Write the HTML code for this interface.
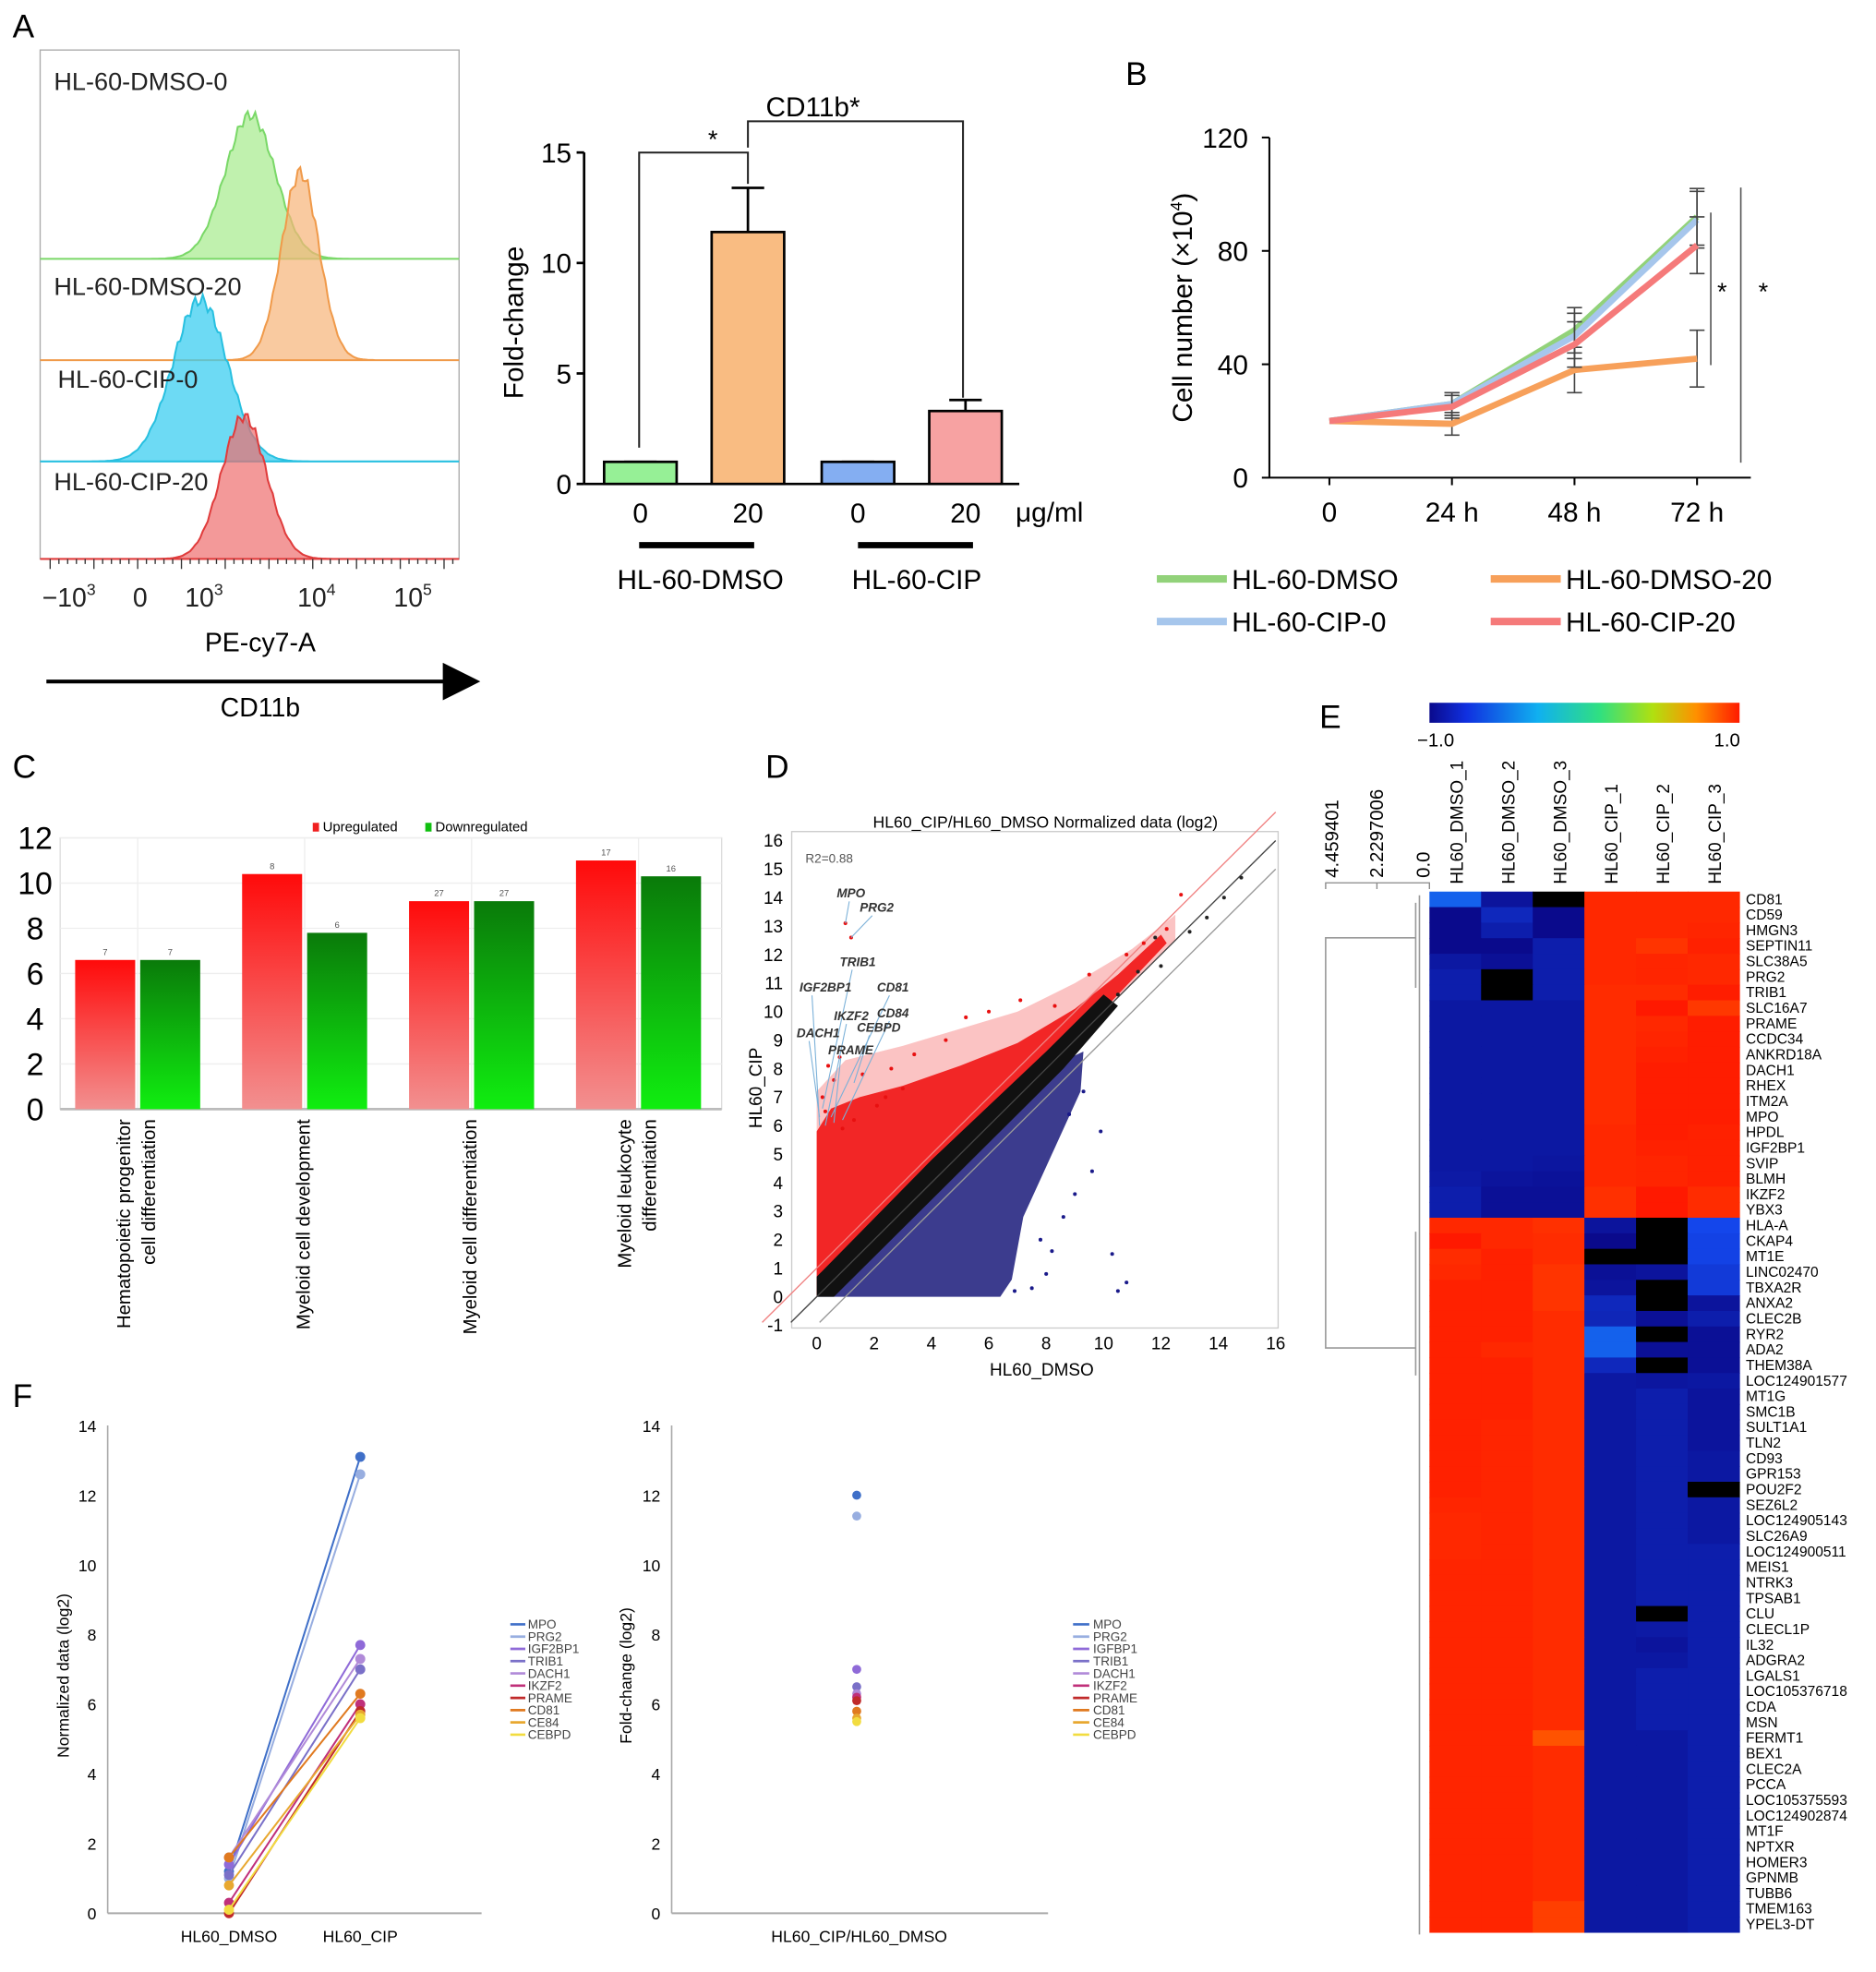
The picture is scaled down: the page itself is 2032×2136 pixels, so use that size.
<!DOCTYPE html>
<html><head><meta charset="utf-8">
<style>
html,body{margin:0;padding:0;background:#fff;}
svg{display:block;font-family:"Liberation Sans",sans-serif;}
</style></head>
<body>
<svg id="fig" width="2032" height="2136" viewBox="0 0 1500 1577" xmlns="http://www.w3.org/2000/svg">
<defs>
<linearGradient id="gRed" x1="0" y1="0" x2="0" y2="1"><stop offset="0" stop-color="#ff0a0a"/><stop offset="1" stop-color="#f29090"/></linearGradient>
<linearGradient id="gGreen" x1="0" y1="0" x2="0" y2="1"><stop offset="0" stop-color="#0a7a0a"/><stop offset="1" stop-color="#10ee10"/></linearGradient>
<linearGradient id="gCbar" x1="0" y1="0" x2="1" y2="0"><stop offset="0" stop-color="#0a0a8c"/><stop offset="0.12" stop-color="#1030e0"/><stop offset="0.35" stop-color="#10b0f0"/><stop offset="0.55" stop-color="#30e080"/><stop offset="0.72" stop-color="#b0e010"/><stop offset="0.86" stop-color="#ff9000"/><stop offset="1" stop-color="#ff1a00"/></linearGradient>
<marker id="arrowHead" markerWidth="10" markerHeight="10" refX="8" refY="5" orient="auto"><path d="M0,0 L10,5 L0,10 Z" fill="#000"/></marker>
</defs>

<text x="10" y="30" font-size="26">A</text>
<text x="900" y="68" font-size="26">B</text>
<text x="10" y="622" font-size="26">C</text>
<text x="612" y="622" font-size="26">D</text>
<text x="1055" y="582" font-size="26">E</text>
<text x="10" y="1125" font-size="26">F</text>

<g id="hist">
<rect x="32" y="40" width="335" height="407" fill="none" stroke="#aaa" stroke-width="1"/>
</g>
<text x="43" y="72" font-size="20" fill="#222">HL-60-DMSO-0</text>
<text x="43" y="236" font-size="20" fill="#222">HL-60-DMSO-20</text>
<text x="46" y="310" font-size="20" fill="#222">HL-60-CIP-0</text>
<text x="43" y="392" font-size="20" fill="#222">HL-60-CIP-20</text>
<g font-size="21" text-anchor="middle" fill="#222">
<text x="55" y="485">−10<tspan font-size="13" dy="-9">3</tspan></text>
<text x="112" y="485">0</text>
<text x="163" y="485">10<tspan font-size="13" dy="-9">3</tspan></text>
<text x="253" y="485">10<tspan font-size="13" dy="-9">4</tspan></text>
<text x="330" y="485">10<tspan font-size="13" dy="-9">5</tspan></text>
</g>
<text x="208" y="521" font-size="21" text-anchor="middle">PE-cy7-A</text>
<line x1="37" y1="545" x2="378" y2="545" stroke="#000" stroke-width="3" marker-end="url(#arrowHead)"/>
<text x="208" y="573" font-size="21" text-anchor="middle">CD11b</text>

<g id="barA"></g>
<text transform="translate(418,258) rotate(-90)" font-size="22" text-anchor="middle">Fold-change</text>
<text x="812" y="417" font-size="22">μg/ml</text>
<line x1="511" y1="436" x2="603" y2="436" stroke="#000" stroke-width="5"/>
<line x1="686" y1="436" x2="778" y2="436" stroke="#000" stroke-width="5"/>
<text x="560" y="471" font-size="22" text-anchor="middle">HL-60-DMSO</text>
<text x="733" y="471" font-size="22" text-anchor="middle">HL-60-CIP</text>
<path d="M511,358 V122 H598 V147" fill="none" stroke="#222" stroke-width="1.5"/>
<path d="M598,118 V97 H770 V318" fill="none" stroke="#222" stroke-width="1.5"/>
<text x="570" y="118" font-size="20" text-anchor="middle">*</text>
<text x="650" y="93" font-size="22" text-anchor="middle">CD11b*</text>

<g id="lineB"></g>
<text transform="translate(953,246) rotate(-90)" font-size="22" text-anchor="middle">Cell number (×10<tspan font-size="13" dy="-8">4</tspan><tspan dy="8">)</tspan></text>
<line x1="1368" y1="170" x2="1368" y2="292" stroke="#555" stroke-width="1.2"/>
<line x1="1392" y1="150" x2="1392" y2="370" stroke="#555" stroke-width="1.2"/>
<text x="1377" y="240" font-size="20" text-anchor="middle">*</text>
<text x="1410" y="240" font-size="20" text-anchor="middle">*</text>
<g id="legB" font-size="22"></g>

<g id="barC"></g>
<rect x="250" y="658" width="5" height="7" fill="#f02020"/>
<text x="258" y="665" font-size="11">Upregulated</text>
<rect x="340" y="658" width="5" height="7" fill="#10c010"/>
<text x="348" y="665" font-size="11">Downregulated</text>

<g id="scatD"></g>
<text x="698" y="662" font-size="13">HL60_CIP/HL60_DMSO  Normalized data (log2)</text>
<text x="644" y="690" font-size="10" fill="#555">R2=0.88</text>
<text x="833" y="1100" font-size="14" text-anchor="middle">HL60_DMSO</text>
<text transform="translate(609,870) rotate(-90)" font-size="14" text-anchor="middle">HL60_CIP</text>

<rect x="1143" y="562" width="248" height="16" fill="url(#gCbar)"/>
<text x="1148" y="597" font-size="15" text-anchor="middle">−1.0</text>
<text x="1381" y="597" font-size="15" text-anchor="middle">1.0</text>
<g font-size="15">
<text transform="translate(1070,702) rotate(-90)">4.459401</text>
<text transform="translate(1106,702) rotate(-90)">2.2297006</text>
<text transform="translate(1143,702) rotate(-90)">0.0</text>
<path d="M1060,711 V706 H1143 V711 M1101,706 V711" fill="none" stroke="#888" stroke-width="1"/>
</g>
<path d="M1132,750 H1060 V1078 H1132 M1135,716 V990 M1135,975 V1547 M1132,722 V790 M1132,985 V1100" fill="none" stroke="#999" stroke-width="1.2"/>
<g id="heat"></g>

<g id="lineF"></g>
<text transform="translate(55,1340) rotate(-90)" font-size="13" text-anchor="middle">Normalized data (log2)</text>
<text transform="translate(505,1340) rotate(-90)" font-size="13" text-anchor="middle">Fold-change (log2)</text>

<script>
const histSamples = ['HL-60-DMSO-0','HL-60-DMSO-20','HL-60-CIP-0','HL-60-CIP-20'];
const histPeakPos = [200, 240, 160, 195];
const histPeakHeight = [115, 150, 129, 114];
const histSpread = [20, 15, 22, 18];
const foldCats = ['0','20','0','20'];
const foldValues = [1, 11.4, 1, 3.3];
const foldErrTop = [1, 13.4, 1, 3.8];
const foldTicks = [0, 5, 10, 15];
const timeCats = ['0','24 h','48 h','72 h'];
const cellSeriesNames = ['HL-60-DMSO','HL-60-DMSO-20','HL-60-CIP-0','HL-60-CIP-20'];
const cellDMSO = [20, 26, 52, 92];
const cellDMSO20 = [20, 19, 38, 42];
const cellCIP0 = [20, 26, 50, 91];
const cellCIP20 = [20, 25, 47, 82];
const cellErr = [0, 4, 8, 10];
const cellTicks = [0, 40, 80, 120];
const goCats = [['Hematopoietic progenitor','cell differentiation'],['Myeloid cell development'],['Myeloid cell differentiation'],['Myeloid leukocyte','differentiation']];
const goUp = [6.6, 10.4, 9.2, 11.0];
const goDown = [6.6, 7.8, 9.2, 10.3];
const goUpCounts = ['7','8','27','17'];
const goDownCounts = ['7','6','27','16'];
const goTicks = [0,2,4,6,8,10,12];
const scatTicksX = [0,2,4,6,8,10,12,14,16];
const scatTicksY = [-1,0,1,2,3,4,5,6,7,8,9,10,11,12,13,14,15,16];
const upRegion = [[0,0],[0,5.8],[0.5,6.6],[1.5,7.0],[3,7.4],[5,8.1],[7,8.9],[9,10.1],[10.5,11.3],[12,12.7],[12.2,12.4],[9,9],[0,0]];
const upHalo = [[0,0],[0,7.2],[1,8.3],[3,8.8],[5,9.4],[7,10.0],[9,11.0],[11,12.2],[12.5,13.4],[12.5,12.5],[0,0]];
const diagRegion = [[0,0],[0,0.7],[4,4.8],[8,8.6],[10,10.6],[10.5,10.2],[8.6,8],[4,3.4],[0.6,0],[0,0]];
const downRegion = [[0,0],[8,8],[9.3,8.6],[9.2,7.2],[8.2,5],[7.2,2.8],[6.8,0.6],[6.4,0],[0,0]];
const upOutX = [1.0,1.2,0.2,0.4,0.3,0.6,0.8,1.6,2.6,3.4,4.5,5.2,2.1,3.0,6.0,7.1,8.3,9.5,10.8,11.4,12.2,12.7,1.3,0.9,2.4];
const upOutY = [13.1,12.6,7.0,8.1,6.5,7.6,8.4,7.8,8.0,8.5,9.0,9.8,6.7,7.3,10.0,10.4,10.2,11.3,12.0,12.4,12.9,14.1,6.2,5.9,7.0];
const downOutX = [7.5,8.2,8.6,9.0,9.6,9.9,10.3,10.8,8.0,8.8,7.8,9.3,6.9,10.5];
const downOutY = [0.3,1.6,2.8,3.6,4.4,5.8,1.5,0.5,0.8,6.4,2.0,7.2,0.2,0.2];
const blackOutX = [10.5,11.2,12.0,13.0,13.6,14.2,14.8,11.8];
const blackOutY = [10.6,11.4,11.6,12.8,13.3,14.0,14.7,12.6];
const geneLabels = ['MPO','PRG2','TRIB1','IGF2BP1','CD81','IKZF2','CD84','DACH1','CEBPD','PRAME'];
const geneLabelX = [0.7,1.5,0.8,-0.6,2.1,0.6,2.1,-0.7,1.4,0.4];
const geneLabelY = [14.0,13.5,11.6,10.7,10.7,9.7,9.8,9.1,9.3,8.5];
const genePtX = [1.0,1.2,0.2,0.1,0.5,0.3,0.9,0.1,1.3,0.6];
const genePtY = [13.1,12.6,6.6,6.0,6.3,6.0,6.2,6.3,7.5,6.1];
const heatCols = ['HL60_DMSO_1','HL60_DMSO_2','HL60_DMSO_3','HL60_CIP_1','HL60_CIP_2','HL60_CIP_3'];
const heatGenes = ['CD81','CD59','HMGN3','SEPTIN11','SLC38A5','PRG2','TRIB1','SLC16A7','PRAME','CCDC34','ANKRD18A','DACH1','RHEX','ITM2A','MPO','HPDL','IGF2BP1','SVIP','BLMH','IKZF2','YBX3',
'HLA-A','CKAP4','MT1E','LINC02470','TBXA2R','ANXA2','CLEC2B','RYR2','ADA2','THEM38A','LOC124901577','MT1G','SMC1B','SULT1A1','TLN2','CD93','GPR153','POU2F2','SEZ6L2','LOC124905143','SLC26A9','LOC124900511','MEIS1','NTRK3','TPSAB1','CLU','CLECL1P','IL32','ADGRA2','LGALS1','LOC105376718','CDA','MSN','FERMT1','BEX1','CLEC2A','PCCA','LOC105375593','LOC124902874','MT1F','NPTXR','HOMER3','GPNMB','TUBB6','TMEM163','YPEL3-DT'];
const heatValues = [
[-0.62,-0.95,null,0.96,0.96,0.96],[-1,-0.85,-1,0.96,0.96,0.96],[-1,-0.9,-1,0.96,0.96,0.97],[-1,-1,-0.9,0.96,0.93,0.98],[-0.93,-0.97,-0.9,0.96,0.97,0.96],
[-0.9,null,-0.9,0.96,0.97,0.96],[-0.9,null,-0.9,0.95,0.95,0.99],[-0.93,-0.93,-0.93,0.95,1,0.92],[-0.93,-0.93,-0.93,0.95,0.96,0.99],[-0.93,-0.93,-0.93,0.95,0.97,0.99],
[-0.93,-0.93,-0.93,0.95,0.98,0.99],[-0.93,-0.93,-0.93,0.95,0.99,0.99],[-0.93,-0.93,-0.93,0.95,0.99,0.99],[-0.93,-0.93,-0.93,0.95,0.99,0.99],[-0.93,-0.93,-0.93,0.95,0.99,0.99],
[-0.93,-0.93,-0.93,0.96,0.99,0.98],[-0.93,-0.93,-0.93,0.96,0.98,0.98],[-0.93,-0.93,-0.94,0.96,0.97,0.98],[-0.92,-0.95,-0.96,0.96,0.97,0.98],[-0.9,-0.97,-0.97,0.94,1,0.95],[-0.9,-0.97,-0.97,0.94,1,0.95],
[0.96,0.96,0.94,-0.95,null,-0.7],[1,0.96,0.95,-1,null,-0.72],[0.95,0.98,0.95,null,null,-0.72],[0.96,0.98,0.93,-0.97,-0.95,-0.76],[0.98,0.98,0.93,-0.95,null,-0.76],
[0.98,0.98,0.93,-0.85,null,-0.95],[0.98,0.98,0.95,-0.86,-0.97,-0.9],[0.98,0.98,0.95,-0.62,null,-0.97],[0.98,0.96,0.95,-0.62,-0.97,-0.97],[0.98,0.98,0.95,-0.85,null,-0.97],
[0.98,0.98,0.95,-0.93,-0.94,-0.93],[0.98,0.98,0.95,-0.93,-0.9,-0.95],[0.98,0.98,0.95,-0.93,-0.9,-0.95],[0.98,0.97,0.95,-0.93,-0.9,-0.95],[0.98,0.97,0.95,-0.93,-0.9,-0.95],
[0.98,0.97,0.95,-0.93,-0.9,-0.93],[0.98,0.97,0.95,-0.93,-0.9,-0.93],[0.98,0.97,0.95,-0.93,-0.9,null],[0.97,0.97,0.95,-0.93,-0.9,-0.93],[0.96,0.97,0.95,-0.93,-0.9,-0.93],
[0.96,0.97,0.95,-0.93,-0.9,-0.93],[0.96,0.97,0.95,-0.93,-0.9,-0.9],[0.97,0.97,0.95,-0.93,-0.9,-0.9],[0.97,0.97,0.95,-0.93,-0.9,-0.9],[0.97,0.97,0.95,-0.93,-0.9,-0.9],
[0.97,0.97,0.95,-0.93,null,-0.9],[0.97,0.97,0.95,-0.93,-0.92,-0.9],[0.97,0.97,0.95,-0.93,-0.95,-0.9],[0.97,0.97,0.95,-0.93,-0.93,-0.9],[0.97,0.97,0.95,-0.93,-0.9,-0.9],
[0.97,0.97,0.95,-0.93,-0.9,-0.9],[0.97,0.97,0.95,-0.93,-0.9,-0.9],[0.97,0.97,0.95,-0.93,-0.9,-0.9],[0.97,0.97,0.85,-0.93,-0.93,-0.9],[0.97,0.97,0.95,-0.93,-0.93,-0.9],
[0.97,0.97,0.95,-0.93,-0.93,-0.9],[0.97,0.97,0.95,-0.93,-0.93,-0.9],[0.97,0.97,0.95,-0.93,-0.93,-0.9],[0.97,0.97,0.95,-0.93,-0.93,-0.9],[0.97,0.97,0.95,-0.93,-0.93,-0.9],
[0.97,0.97,0.95,-0.93,-0.93,-0.9],[0.97,0.97,0.95,-0.93,-0.93,-0.9],[0.97,0.97,0.95,-0.93,-0.93,-0.9],[0.97,0.97,0.95,-0.93,-0.93,-0.9],[0.97,0.97,0.9,-0.93,-0.93,-0.9],[0.97,0.97,0.9,-0.93,-0.93,-0.9]];
const fGenes = ['MPO','PRG2','IGF2BP1','TRIB1','DACH1','IKZF2','PRAME','CD81','CE84','CEBPD'];
const fLegendRight = ['MPO','PRG2','IGFBP1','TRIB1','DACH1','IKZF2','PRAME','CD81','CE84','CEBPD'];
const fDMSO = [1.2, 1.0, 1.4, 1.1, 1.6, 0.3, 0.0, 1.6, 0.8, 0.1];
const fCIP = [13.1, 12.6, 7.7, 7.0, 7.3, 6.0, 5.8, 6.3, 5.7, 5.6];
const fFold = [12.0, 11.4, 7.0, 6.5, 6.3, 6.2, 6.1, 5.8, 5.6, 5.5];
const fTicks = [0,2,4,6,8,10,12,14];

const NS = 'http://www.w3.org/2000/svg';
function mk(parent, tag, attrs, txt) {
  const e = document.createElementNS(NS, tag);
  for (const k in attrs) e.setAttribute(k, attrs[k]);
  if (txt !== undefined) e.textContent = txt;
  parent.appendChild(e);
  return e;
}
let el;

const hist = document.getElementById('hist');
const histBase = [207, 288, 369, 447];
const histFill = ['rgba(150,232,120,0.6)','rgba(246,180,120,0.7)','rgba(60,205,240,0.75)','rgba(238,110,110,0.7)'];
const histStroke = ['#7ad868','#f09a4a','#28c0e0','#e03c3c'];
const histX = v => v;
for (let i = 0; i < 4; i++) {
  let d = 'M32,' + histBase[i];
  for (let x = 32; x <= 367; x += 2) {
    const z = (x - histX(histPeakPos[i])) / histSpread[i];
    const wob = 1 + 0.04 * Math.sin(x * 0.9);
    d += ' L' + x + ',' + (histBase[i] - histPeakHeight[i] * Math.exp(-z * z / 2) * wob).toFixed(1);
  }
  d += ' L367,' + histBase[i] + ' Z';
  el = mk(hist, 'path', {d: d, fill: histFill[i], stroke: histStroke[i], 'stroke-width': 1.5});
  
  
}
for (let x = 40; x < 367; x += 7) {
  el = mk(hist, 'line', {x1: x, y1: 447, x2: x, y2: (x % 5 === 0 ? 455 : 451), stroke: '#333', 'stroke-width': 1});
  
  
}

const barA = document.getElementById('barA');
const yA = v => 387 - v * 17.67;
const xA = i => [512, 598, 686, 772][i];
const barAColors = ['#96f096', '#f9bc82', '#84aef2', '#f7a2a2'];
el = mk(barA, 'line', {x1: 467, y1: yA(0), x2: 467, y2: yA(15), stroke: '#000', 'stroke-width': 2});


el = mk(barA, 'line', {x1: 467, y1: yA(0), x2: 815, y2: yA(0), stroke: '#000', 'stroke-width': 2});


foldTicks.forEach(t => {
  el = mk(barA, 'line', {x1: 461, y1: yA(t), x2: 467, y2: yA(t), stroke: '#000', 'stroke-width': 2});
  
  
  el = mk(barA, 'text', {x: 457, y: yA(t) + 8, 'font-size': 22, 'text-anchor': 'end'}, String(t));
  
  
});
foldValues.forEach((v, i) => {
  el = mk(barA, 'line', {x1: xA(i), y1: yA(foldValues[i]), x2: xA(i), y2: yA(foldErrTop[i]), stroke: '#000', 'stroke-width': 2});
  
  
  el = mk(barA, 'line', {x1: xA(i) - 13, y1: yA(foldErrTop[i]), x2: xA(i) + 13, y2: yA(foldErrTop[i]), stroke: '#000', 'stroke-width': 2});
  
  
  el = mk(barA, 'rect', {x: xA(i) - 29, y: yA(v), width: 58, height: yA(0) - yA(v), fill: barAColors[i], stroke: '#000', 'stroke-width': 2});
  
  
  el = mk(barA, 'text', {x: xA(i), y: 418, 'font-size': 22, 'text-anchor': 'middle'}, foldCats[i]);
  
  
});

const lineB = document.getElementById('lineB');
const xB = i => 1063 + i * 98;
const yB = v => 382 - v * 2.267;
el = mk(lineB, 'line', {x1: 1015, y1: yB(0), x2: 1015, y2: yB(120), stroke: '#000', 'stroke-width': 1.5});


el = mk(lineB, 'line', {x1: 1015, y1: yB(0), x2: 1400, y2: yB(0), stroke: '#000', 'stroke-width': 1.5});


cellTicks.forEach(t => {
  el = mk(lineB, 'line', {x1: 1009, y1: yB(t), x2: 1015, y2: yB(t), stroke: '#000', 'stroke-width': 1.5});
  
  
  el = mk(lineB, 'text', {x: 998, y: yB(t) + 8, 'font-size': 22, 'text-anchor': 'end'}, String(t));
  
  
});
timeCats.forEach((c, i) => {
  el = mk(lineB, 'line', {x1: xB(i), y1: yB(0), x2: xB(i), y2: yB(0) + 6, stroke: '#000', 'stroke-width': 1.5});
  
  
  el = mk(lineB, 'text', {x: xB(i), y: 417, 'font-size': 22, 'text-anchor': 'middle'}, c);
  
  
});
const cellSeries = [cellDMSO, cellDMSO20, cellCIP0, cellCIP20];
const cellColors = ['#92d27a', '#f7a05a', '#a6c6ec', '#f57a7a'];
const drawOrder = [1, 0, 2, 3];
drawOrder.forEach(s => {
  const vals = cellSeries[s];
  vals.forEach((v, i) => {
    if (cellErr[i] > 0) {
      el = mk(lineB, 'path', {d: 'M' + xB(i) + ',' + yB(v - cellErr[i]) + ' V' + yB(v + cellErr[i]) + ' M' + (xB(i) - 6) + ',' + yB(v - cellErr[i]) + ' h12 M' + (xB(i) - 6) + ',' + yB(v + cellErr[i]) + ' h12', stroke: '#444', 'stroke-width': 1.2, fill: 'none'});
      
      
    }
  });
  el = mk(lineB, 'polyline', {points: vals.map((v, i) => xB(i) + ',' + yB(v)).join(' '), fill: 'none', stroke: cellColors[s], 'stroke-width': 5, 'stroke-linejoin': 'round'});
  
  
});
const legB = document.getElementById('legB');
const legPos = [[925, 463], [1192, 463], [925, 497], [1192, 497]];
cellSeriesNames.forEach((n, s) => {
  el = mk(legB, 'line', {x1: legPos[s][0], y1: legPos[s][1], x2: legPos[s][0] + 56, y2: legPos[s][1], stroke: cellColors[s], 'stroke-width': 6});
  
  
  el = mk(legB, 'text', {x: legPos[s][0] + 60, y: legPos[s][1] + 8}, n);
  
  
});

const barC = document.getElementById('barC');
const yC = v => 887 - v * 18.08;
const xC = i => 110 + i * 133.5;
el = mk(barC, 'rect', {x: 48, y: yC(12), width: 529, height: yC(0) - yC(12), fill: 'none', stroke: '#ddd'});


goTicks.forEach(t => {
  el = mk(barC, 'line', {x1: 48, y1: yC(t), x2: 577, y2: yC(t), stroke: '#eee', 'stroke-width': 1});
  
  
  el = mk(barC, 'text', {x: 28, y: yC(t) + 9, 'font-size': 25, 'text-anchor': 'middle'}, String(t));
  
  
});
for (let i = 0; i < 4; i++) {
  el = mk(barC, 'line', {x1: xC(i), y1: yC(12), x2: xC(i), y2: yC(0), stroke: '#eee'});
  
  
}
el = mk(barC, 'line', {x1: 48, y1: yC(0), x2: 577, y2: yC(0), stroke: '#bbb', 'stroke-width': 2});


goCats.forEach((c, i) => {
  el = mk(barC, 'rect', {x: xC(i) - 50, y: yC(goUp[i]), width: 48, height: yC(0) - yC(goUp[i]), fill: 'url(#gRed)'});
  
  
  el = mk(barC, 'rect', {x: xC(i) + 2, y: yC(goDown[i]), width: 48, height: yC(0) - yC(goDown[i]), fill: 'url(#gGreen)'});
  
  
  el = mk(barC, 'text', {x: xC(i) - 26, y: yC(goUp[i]) - 4, 'font-size': 7, 'text-anchor': 'middle', fill: '#555'}, goUpCounts[i]);
  
  
  el = mk(barC, 'text', {x: xC(i) + 26, y: yC(goDown[i]) - 4, 'font-size': 7, 'text-anchor': 'middle', fill: '#555'}, goDownCounts[i]);
  
  
  c.forEach((line, k) => {
    const lx = xC(i) + 4 + (k - (c.length - 1) / 2) * 20;
    el = mk(barC, 'text', {transform: 'translate(' + lx + ',895) rotate(-90)', 'font-size': 15, 'text-anchor': 'end'}, line);
    
    
  });
});

const sc = document.getElementById('scatD');
const xD = v => 653 + v * 22.94;
const yD = v => 1037 - v * 22.8;
el = mk(sc, 'rect', {x: 633, y: 665, width: 389, height: 397, fill: 'none', stroke: '#ccc'});


scatTicksX.forEach(t => {
  el = mk(sc, 'text', {x: xD(t), y: 1079, 'font-size': 14, 'text-anchor': 'middle'}, String(t));
  
  
});
scatTicksY.forEach(t => {
  el = mk(sc, 'text', {x: 626, y: yD(t) + 5, 'font-size': 14, 'text-anchor': 'end'}, String(t));
  
  
});
const poly = pts => pts.map(p => xD(p[0]).toFixed(1) + ',' + yD(p[1]).toFixed(1)).join(' ');
el = mk(sc, 'polygon', {points: poly(downRegion), fill: '#1a1a7a', opacity: 0.85});


el = mk(sc, 'polygon', {points: poly(upHalo), fill: '#f01010', opacity: 0.25});


el = mk(sc, 'polygon', {points: poly(upRegion), fill: '#f01010', opacity: 0.88});


el = mk(sc, 'polygon', {points: poly(diagRegion), fill: '#111'});


[[1, '#f08080'], [0, '#444'], [-1, '#999']].forEach(([off, col]) => {
  el = mk(sc, 'line', {x1: xD(-0.9 - off), y1: yD(-0.9), x2: xD(16), y2: yD(16 + off), stroke: col, 'stroke-width': 1});
  
  
});
upOutX.forEach((x, i) => {
  el = mk(sc, 'circle', {cx: xD(x), cy: yD(upOutY[i]), r: 1.5, fill: '#e81010'});
  
  
});
downOutX.forEach((x, i) => {
  el = mk(sc, 'circle', {cx: xD(x), cy: yD(downOutY[i]), r: 1.5, fill: '#1a1a8a'});
  
  
});
blackOutX.forEach((x, i) => {
  el = mk(sc, 'circle', {cx: xD(x), cy: yD(blackOutY[i]), r: 1.5, fill: '#222'});
  
  
});
geneLabels.forEach((g, i) => {
  el = mk(sc, 'line', {x1: xD(geneLabelX[i]) + 10, y1: yD(geneLabelY[i]) + 3, x2: xD(genePtX[i]), y2: yD(genePtY[i]), stroke: '#7ab0d8', 'stroke-width': 0.8});
  
  
  el = mk(sc, 'text', {x: xD(geneLabelX[i]), y: yD(geneLabelY[i]), 'font-size': 10, 'font-weight': 'bold', 'font-style': 'italic', fill: '#333'}, g);
  
  
});

const heat = document.getElementById('heat');
const hx0 = 1143, hcw = 41.3, hy0 = 713, hrh = 12.42;
const stops = [[-1, [10, 10, 140]], [-0.7, [20, 70, 235]], [-0.4, [20, 170, 240]], [0, [60, 220, 120]], [0.4, [200, 220, 20]], [0.7, [255, 140, 0]], [1, [255, 25, 0]]];
function cmap(v) {
  if (v === null) return '#000';
  for (let k = 0; k < stops.length - 1; k++) {
    if (v <= stops[k + 1][0]) {
      const t = (v - stops[k][0]) / (stops[k + 1][0] - stops[k][0]);
      const c = stops[k][1].map((a, j) => Math.round(a + (stops[k + 1][1][j] - a) * Math.max(0, t)));
      return 'rgb(' + c.join(',') + ')';
    }
  }
  return 'rgb(255,25,0)';
}
heatCols.forEach((c, j) => {
  el = mk(heat, 'text', {transform: 'translate(' + (hx0 + hcw * j + hcw / 2 + 6) + ',707) rotate(-90)', 'font-size': 14}, c);
  
  
});
heatValues.forEach((row, r) => {
  row.forEach((v, j) => {
    el = mk(heat, 'rect', {x: hx0 + hcw * j, y: hy0 + hrh * r, width: hcw + 0.5, height: hrh + 0.5, fill: cmap(v)});
    
    
  });
  el = mk(heat, 'text', {x: 1396, y: hy0 + hrh * r + 10, 'font-size': 11.5}, heatGenes[r]);
  
  
});

const lf = document.getElementById('lineF');
const yF = v => 1530 - v * 27.86;
const fColors = ['#3f6fc8', '#98aee0', '#8f6ad8', '#7a70c8', '#b08ad8', '#c0307a', '#c02a2a', '#e07a20', '#e8a830', '#f2dc40'];
const xFl = i => [183, 288][i];
[[86, 385], [537, 838]].forEach(([a, b], k) => {
  el = mk(lf, 'line', {x1: a, y1: yF(0), x2: a, y2: yF(14), stroke: '#aaa', 'stroke-width': 1.2});
  
  
  el = mk(lf, 'line', {x1: a, y1: yF(0), x2: b, y2: yF(0), stroke: '#aaa', 'stroke-width': 1.5});
  
  
  fTicks.forEach(t => {
    el = mk(lf, 'text', {x: a - 9, y: yF(t) + 5, 'font-size': 13, 'text-anchor': 'end'}, String(t));
    
    
  });
});
['HL60_DMSO', 'HL60_CIP'].forEach((c, i) => {
  el = mk(lf, 'text', {x: xFl(i), y: 1553, 'font-size': 13, 'text-anchor': 'middle'}, c);
  
  
});
el = mk(lf, 'text', {x: 687, y: 1553, 'font-size': 13, 'text-anchor': 'middle'}, 'HL60_CIP/HL60_DMSO');


fGenes.forEach((g, i) => {
  el = mk(lf, 'line', {x1: xFl(0), y1: yF(fDMSO[i]), x2: xFl(1), y2: yF(fCIP[i]), stroke: fColors[i], 'stroke-width': 1.5});
  
  
  el = mk(lf, 'circle', {cx: xFl(0), cy: yF(fDMSO[i]), r: 4, fill: fColors[i]});
  
  
  el = mk(lf, 'circle', {cx: xFl(1), cy: yF(fCIP[i]), r: 4, fill: fColors[i]});
  
  
  el = mk(lf, 'circle', {cx: 685, cy: yF(fFold[i]), r: 3.6, fill: fColors[i]});
  
  
  const ly = 1299 + i * 9.8;
  el = mk(lf, 'line', {x1: 408, y1: ly, x2: 420, y2: ly, stroke: fColors[i], 'stroke-width': 2});
  
  
  el = mk(lf, 'text', {x: 422, y: ly + 3.5, 'font-size': 10, fill: '#444'}, g);
  
  
  el = mk(lf, 'line', {x1: 858, y1: ly, x2: 871, y2: ly, stroke: fColors[i], 'stroke-width': 2});
  
  
  el = mk(lf, 'text', {x: 874, y: ly + 3.5, 'font-size': 10, fill: '#444'}, fLegendRight[i]);
  
  
});
</script>
</svg>
</body></html>
